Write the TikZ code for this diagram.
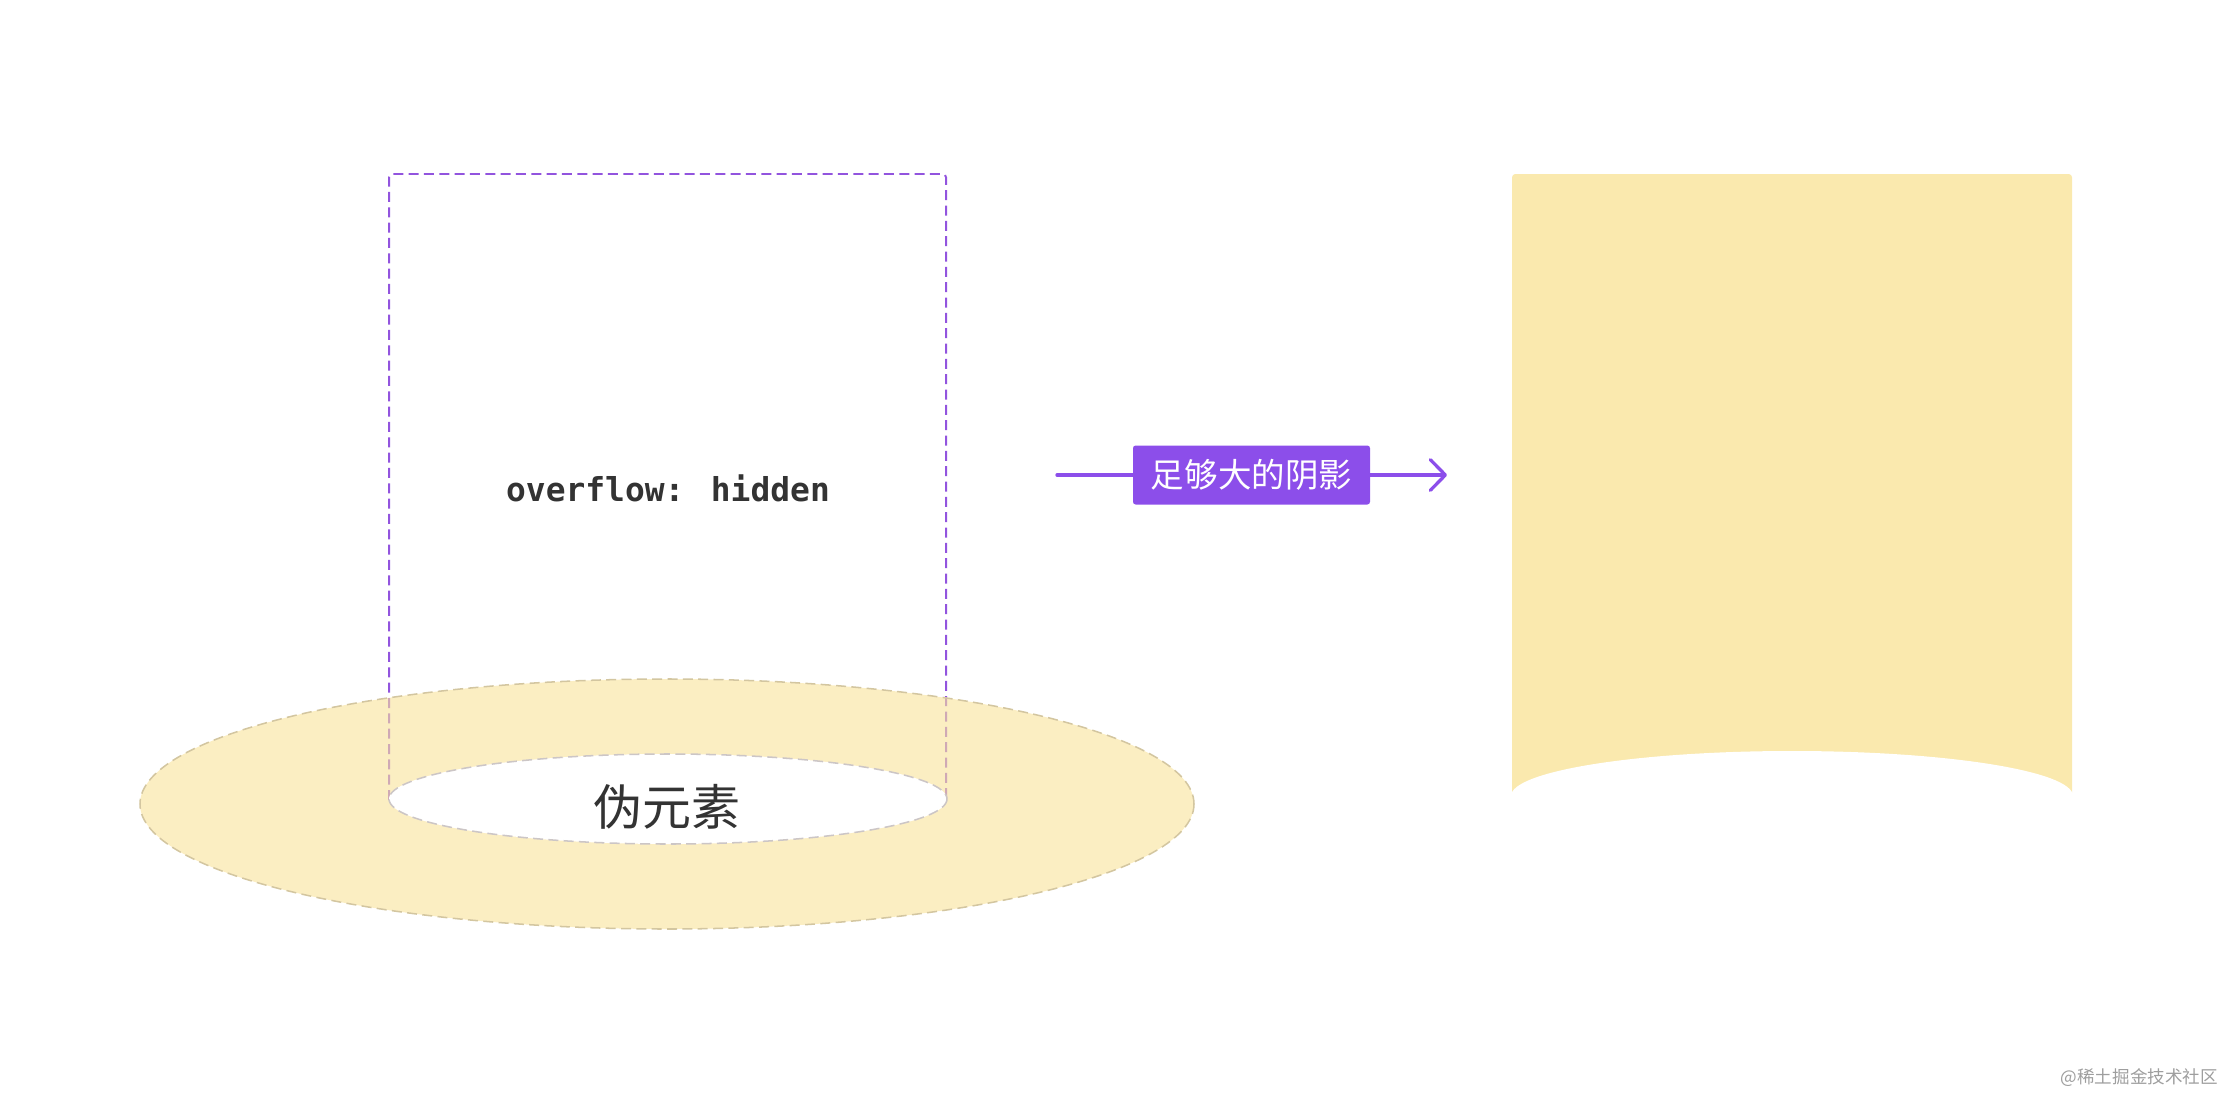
\documentclass[tikz,border=0pt]{standalone}
\usepackage{fontspec}
\usepackage{tikz}
\usepackage{xcolor}
\usetikzlibrary{
    arrows.meta,
    calc,
    positioning
}
\newfontfamily\cjk{Noto Sans CJK SC}
\newfontfamily\codefont{DejaVu Sans Mono}
\definecolor{boxpurple}{HTML}{9254DE}
\definecolor{tagpurple}{HTML}{8C4EEA}
\definecolor{ringfill}{HTML}{F9E29A}
\definecolor{ringline}{HTML}{D3C6A0}
\definecolor{holeline}{HTML}{CCC6C6}
\definecolor{shadowfill}{HTML}{FAE9AE}
\definecolor{textgray}{HTML}{333333}
\tikzset{
    dashline/.style={dash pattern=on 0.3cm off 0.16cm},
    clipbox/.style={draw=boxpurple, line width=1.7pt, dashline, rounded corners=0.1cm},
    ring/.style={fill=ringfill, fill opacity=0.6, draw=ringline, draw opacity=1, line width=1.3pt, dashline},
    hole/.style={fill=white, draw=holeline, line width=1.3pt, dashline},
    tag/.style={fill=tagpurple, text=white, rounded corners=0.08cm, inner sep=0pt,
        minimum width=7.11cm, minimum height=1.77cm, font=\cjk\fontsize{28.6pt}{30pt}\selectfont},
    flow/.style={draw=tagpurple, line width=2.8pt, line cap=round}
}

\begin{document}
\begin{tikzpicture}[x=0.03cm, y=-0.03cm]
    \useasboundingbox (0,0) rectangle (2228,1094);

    % clipping box
    \draw[clipbox] (389,800) -- (389,174) -- (946,174) -- (946,800);

    % pseudo element ring
    \path[ring] (667,804) ellipse [x radius=527, y radius=125];
    \path[hole] (668,799) ellipse [x radius=279, y radius=45];

    \node[text=textgray, font=\codefont\bfseries\fontsize{28.1pt}{30pt}\selectfont] (code) at (668,488) {overflow: hidden};
    \node[text=textgray, font=\cjk\fontsize{41.8pt}{44pt}\selectfont] (pseudo) at (667,807) {伪元素};

    % arrow with label
    \coordinate (from) at (1057,475);
    \coordinate (to) at (1447,475);
    \node[tag] (shadow) at (1251.5,475) {足够大的阴影};
    \draw[flow] (from) -- (shadow.west);
    \draw[flow, -{Straight Barb[length=0.45cm, width=0.92cm, round]}] (shadow.east) -- (to);

    % result
    \fill[shadowfill, rounded corners=0.1cm] (1512,796) -- (1512,174) -- (2072,174) -- (2072,796) -- cycle;
    \fill[white] (1792,796) ellipse [x radius=281, y radius=45];

    \node[anchor=east, text=black!38, font=\cjk\fontsize{15pt}{17pt}\selectfont] (mark) at (2222,1078) {@稀土掘金技术社区};
\end{tikzpicture}
\end{document}
